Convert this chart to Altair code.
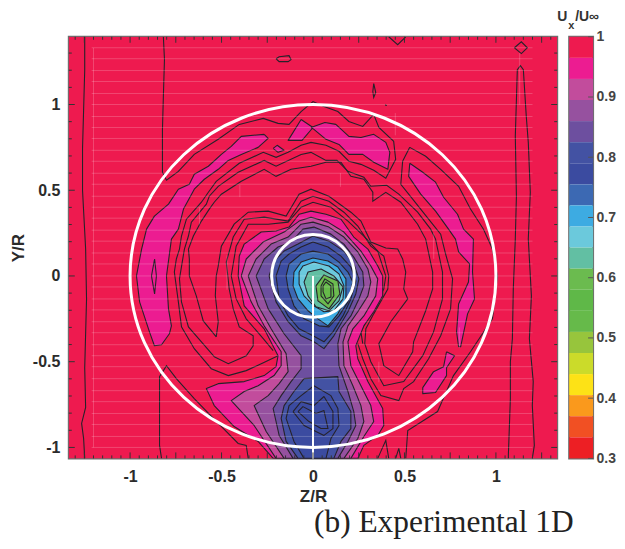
import altair as alt
import pandas as pd

Z_DOMAIN = [-1.335, 1.335]
Y_DOMAIN = [-1.064, 1.395]
BAND_EDGES = [1.0, .965, .93, .895, .86, .825, .79, .755, .72, .685, .65, .615, .58, .545, .51, .475, .44, .405, .37, .335, .30]
BAND_COLORS = ["#EE1A4F", "#EC1C91", "#C24C9C", "#96519F", "#6D4F9F", "#4352A3", "#3B4BA0", "#3C69B3", "#3DABE2", "#6BC9DC",
               "#62BFA3", "#6BBB4F", "#5FB848", "#66BA4A", "#97C53C", "#CBDB2A", "#FDE216", "#FA991C", "#F15023", "#ED1F24"]
COLORBAR_TICKS = [.3, .4, .5, .6, .7, .8, .9, 1]
AXIS_TICKS = [-1, -.5, 0, .5, 1]

BG = [(-1.335, 1.395), (1.335, 1.395), (1.335, -1.064), (-1.335, -1.064)]
PINK_LEFT = [(-.267,.826),(-.392,.814),(-.447,.756),(-.501,.709),(-.572,.640),(-.649,.593),(-.676,.535),(-.736,.506),(-.790,.419),(-.867,.349),(-.910,.273),(-.937,.157),(-.965,0),(-.948,-.151),(-.894,-.326),(-.867,-.407),(-.828,-.401),(-.785,-.337),(-.774,-.291),(-.790,-.192),(-.801,0),(-.774,.215),(-.736,.273),(-.708,.390),(-.649,.506),(-.594,.564),(-.518,.622),(-.463,.674),(-.392,.709),(-.300,.750),(-.245,.802)]
PINK_DIAMOND = [(-.065,.913),(0,.866),(-.060,.791),(-.136,.791)]
PINK_SMALL = [(-.218,.744),(-.196,.762),(-.158,.733),(-.191,.721)]
PINK_TOPRIGHT = [(-.011,.866),(.065,.895),(.125,.884),(.196,.814),(.262,.808),(.332,.826),(.398,.779),(.420,.721),(.409,.622),(.332,.663),(.272,.709),(.196,.709),(.142,.767),(.071,.797),(.005,.855)]
PINK_RIGHT = [(.529,.657),(.600,.605),(.670,.547),(.714,.459),(.790,.360),(.823,.273),(.877,.215),(.872,.023),(.883,-.134),(.845,-.221),(.807,-.413),(.796,-.413),(.785,-.326),(.796,-.163),(.850,-.035),(.856,.070),(.796,.140),(.779,.215),(.741,.273),(.670,.378),(.589,.477),(.523,.581)]
PINK_LOWRIGHT = [(.730,-.442),(.774,-.465),(.730,-.535),(.730,-.581),(.670,-.680),(.600,-.686),(.600,-.651),(.659,-.558),(.714,-.529)]
L2 = [(-.403,.116),(-.376,.186),(-.283,.256),(-.202,.262),(-.131,.285),(-.076,.360),(-.011,.378),(.071,.360),(.153,.331),(.223,.227),(.300,.157),(.354,.058),(.381,0),(.381,-.116),(.332,-.209),(.278,-.291),(.234,-.407),(.245,-.483),(.300,-.616),(.381,-.773),(.387,-.872),(.354,-.930),(.278,-.988),(.245,-1.064),(-.218,-1.064),(-.300,-.965),(-.431,-.878),(-.540,-.756),(-.583,-.657),(-.518,-.628),(-.376,-.616),(-.267,-.581),(-.202,-.529),(-.191,-.465),(-.267,-.308),(-.376,-.174),(-.409,0)]
L3 = [(-.392,0),(-.365,.099),(-.273,.198),(-.158,.256),(-.076,.320),(-.011,.343),(.082,.314),(.169,.256),(.262,.145),(.316,.058),(.354,-.017),(.343,-.116),(.278,-.233),(.218,-.308),(.191,-.384),(.207,-.523),(.262,-.640),(.316,-.756),(.332,-.849),(.278,-.936),(.207,-1.064),(-.202,-1.064),(-.322,-.872),(-.447,-.727),(-.376,-.674),(-.300,-.640),(-.213,-.581),(-.174,-.523),(-.174,-.442),(-.267,-.291),(-.338,-.151)]
L4 = [(-.354,0),(-.311,.099),(-.229,.186),(-.136,.227),(-.065,.302),(0,.314),(.087,.285),(.169,.227),(.245,.140),(.300,.041),(.316,-.035),(.300,-.116),(.245,-.209),(.191,-.291),(.164,-.384),(.169,-.523),(.218,-.640),(.262,-.756),(.278,-.849),(.245,-.948),(.169,-1.064),(-.158,-1.064),(-.256,-.907),(-.322,-.756),(-.245,-.698),(-.185,-.628),(-.136,-.558),(-.147,-.453),(-.229,-.308),(-.300,-.174)]
L5 = [(-.311,0),(-.267,.099),(-.191,.169),(-.120,.198),(-.055,.273),(.005,.285),(.098,.244),(.169,.186),(.223,.110),(.272,.023),(.278,-.058),(.251,-.134),(.207,-.233),(.153,-.308),(.136,-.395),(.142,-.523),(.191,-.674),(.223,-.791),(.234,-.872),(.191,-.965),(.136,-1.064),(-.109,-1.064),(-.185,-.930),(-.218,-.773),(-.174,-.698),(-.120,-.616),(-.065,-.541),(-.065,-.465),(-.158,-.337),(-.245,-.192)]
L6_UP = [(-.240,0),(-.213,.087),(-.158,.145),(-.082,.186),(0,.233),(.087,.203),(.169,.145),(.223,.070),(.251,-.017),(.234,-.105),(.191,-.209),(.114,-.349),(.060,-.424),(.005,-.384),(-.065,-.349),(-.136,-.267),(-.202,-.151)]
L6_LOW = [(-.049,-.599),(.136,-.587),(.142,-.674),(.207,-.791),(.207,-.890),(.153,-.965),(.114,-1.064),(-.082,-1.064),(-.147,-.965),(-.174,-.831),(-.158,-.756),(-.104,-.674)]
L7_LOW = [(.005,-.640),(.098,-.698),(.136,-.773),(.142,-.872),(.098,-.948),(.071,-1.064),(-.049,-1.064),(-.104,-.965),(-.147,-.831),(-.131,-.756),(-.065,-.698)]
L8_LOW = [(-.109,-.791),(-.065,-.733),(.005,-.756),(.060,-.703),(.109,-.791),(.109,-.890),(.060,-.930),(.016,-.907),(-.049,-.872)]
L9_LOW = [(-.082,-.791),(-.055,-.762),(.016,-.802),(.060,-.785),(.082,-.890),(.044,-.890),(-.022,-.849)]
L7_UP = [(-.202,0),(-.174,.087),(-.131,.128),(-.065,.169),(0,.198),(.082,.169),(.153,.116),(.207,.052),(.234,-.029),(.207,-.134),(.164,-.233),(.109,-.326),(.060,-.384),(0,-.349),(-.076,-.308),(-.136,-.233),(-.185,-.134)]
L8 = [(-.147,0),(-.131,.070),(-.065,.128),(0,.145),(.082,.128),(.142,.081),(.191,.023),(.218,-.035),(.191,-.151),(.142,-.233),(.087,-.297),(.033,-.291),(-.049,-.250),(-.104,-.174),(-.136,-.076)]
L9 = [(-.104,.023),(-.065,.081),(0,.105),(.082,.087),(.136,.052),(.180,-.017),(.180,-.134),(.136,-.221),(.082,-.291),(.027,-.250),(-.027,-.203),(-.082,-.134),(-.109,-.058)]
L10 = [(-.076,.023),(-.055,.058),(.005,.081),(.087,.058),(.142,.012),(.169,-.058),(.164,-.134),(.114,-.203),(.060,-.209),(.005,-.174),(-.049,-.116),(-.076,-.047)]
L11 = [(-.049,-.035),(-.027,.023),(.044,.041),(.114,0),(.164,-.064),(.142,-.145),(.087,-.203),(.016,-.180),(-.027,-.116)]
L12 = [(.016,-.058),(.060,.006),(.136,-.029),(.147,-.105),(.087,-.192),(.027,-.145)]
L13 = [(.044,-.058),(.065,-.017),(.109,-.047),(.114,-.116),(.082,-.163),(.044,-.116)]
L14 = [(.055,-.058),(.071,-.035),(.098,-.058),(.098,-.122),(.071,-.134),(.055,-.093)]

LOOP1 = [(-.529,-.355),(-.600,-.262),(-.638,-.116),(-.676,0),(-.676,.099),(-.681,.157),(-.654,.233),(-.610,.320),(-.567,.390),(-.540,.430),(-.501,.477),(-.392,.552),(-.267,.622),(-.202,.581),(-.120,.622),(-.011,.640),(.071,.663),(.153,.663),(.207,.581),(.278,.564),(.327,.488),(.327,.436),(.398,.488),(.480,.430),(.572,.302),(.616,.215),(.654,.023),(.654,-.076),(.616,-.203),(.550,-.384),(.545,-.442),(.469,-.581),(.387,-.523),(.360,-.395),(.425,-.267),(.518,-.134),(.496,-.076),(.507,.023),(.490,.099),(.463,.157),(.398,.163),(.316,.198),(.262,.320),(.207,.372),(.087,.465),(-.011,.506),(-.076,.477),(-.147,.349),(-.245,.378),(-.354,.372),(-.431,.302),(-.501,.174),(-.518,.058),(-.529,0),(-.534,-.116),(-.518,-.267),(-.529,-.355)]
LOOP2 = [(-.540,-.471),(-.610,-.384),(-.681,-.297),(-.719,-.151),(-.730,-.017),(-.703,.157),(-.681,.233),(-.665,.314),(-.583,.419),(-.567,.465),(-.518,.523),(-.409,.605),(-.267,.674),(-.202,.640),(-.065,.709),(-.011,.721),(.071,.674),(.131,.674),(.191,.610),(.278,.576),(.316,.523),(.403,.529),(.469,.477),(.572,.372),(.643,.273),(.670,.215),(.708,.023),(.708,-.134),(.659,-.326),(.600,-.465),(.496,-.616),(.387,-.640),(.316,-.500),(.283,-.395),(.289,-.308),(.332,-.221),(.409,-.076),(.414,0),(.387,.116),(.316,.174),(.245,.291),(.169,.372),(.087,.436),(0,.465),(-.065,.436),(-.136,.320),(-.267,.343),(-.376,.331),(-.436,.227),(-.474,.081),(-.458,-.076),(-.436,-.192),(-.403,-.297),(-.327,-.349),(-.327,-.407),(-.365,-.465),(-.463,-.512),(-.540,-.471)]
LINE_A = [(-.818,1.395),(-.812,1.262),(-.818,1.047),(-.823,.855),(-.823,.605),(-.801,.558),(-.736,.610),(-.649,.709),(-.518,.797),(-.403,.884),(-.272,.919),(-.191,.890),(-.131,.884),(-.065,.959),(0,1.017),(.060,.988),(.136,.959),(.196,.901),(.272,.872),(.332,.942),(.360,.866),(.441,.785),(.452,.680),(.398,.570),(.332,.616),(.262,.651),(.196,.669),(.142,.727),(.071,.762),(-.011,.779),(-.065,.762),(-.136,.721),(-.202,.692),(-.272,.721),(-.403,.657),(-.529,.552),(-.572,.488),(-.610,.430),(-.692,.331),(-.719,.233),(-.730,.157),(-.747,.099),(-.758,.023),(-.736,-.151),(-.719,-.297),(-.649,-.424),(-.556,-.541),(-.463,-.581),(-.365,-.552),(-.283,-.512),(-.191,-.465)]
LINE_D = [(-.218,-.436),(-.272,-.366),(-.365,-.250),(-.420,-.134),(-.447,0),(-.420,.174),(-.354,.302),(-.245,.302),(-.136,.314),(-.065,.401),(0,.430),(.098,.401),(.191,.320),(.278,.233),(.354,.145),(.398,0),(.387,-.076),(.316,-.209),(.262,-.326),(.272,-.395)]
LINE_R3 = [(.529,.750),(.490,.669),(.480,.535),(.545,.448),(.632,.331),(.698,.244),(.725,.128),(.763,-.017),(.752,-.192),(.698,-.349),(.632,-.483),(.550,-.616),(.496,-.657),(.469,-.727),(.371,-.698),(.316,-.599),(.272,-.483),(.245,-.395)]
LINE_RO = [(.529,.750),(.616,.698),(.698,.622),(.796,.523),(.861,.390),(.932,.273),(.981,.157),(1.008,0),(.981,-.250),(.861,-.442),(.768,-.581),(.681,-.791),(.518,-.901),(.507,-1.064)]
LINE_C = [(-.828,-1.064),(-.839,-.988),(-.839,-.587),(-.801,-.523),(-.747,-.599),(-.649,-.715),(-.518,-.860),(-.409,-.977),(-.365,-.988),(-.354,-1.064)]
LINE_FARLEFT = [(-1.248,1.395),(-1.248,1.20),(-1.254,.97),(-1.26,.74),(-1.26,.50),(-1.243,.157),(-1.238,-.134),(-1.248,-.535),(-1.243,-.767),(-1.265,-.860),(-1.254,-.948),(-1.248,-1.064)]
LINE_FARRIGHT = [(1.068,-1.064),(1.068,-1.046),(1.079,-.715),(1.079,-.500),(1.090,-.366),(1.095,-.076),(1.106,.215),(1.112,.465),(1.106,.814),(1.117,1.203),(1.134,1.227),(1.150,1.203),(1.166,.930),(1.177,.779),(1.188,.488),(1.177,.215),(1.194,-.116),(1.183,-.366),(1.204,-.616),(1.199,-.756),(1.210,-.988),(1.199,-1.064)]
SMALL_LINES = [
    [(1.101,1.331),(1.139,1.366),(1.172,1.331),(1.139,1.297),(1.101,1.331)],
    [(.414,1.395),(.463,1.349),(.507,1.395)],
    [(-.202,1.267),(-.185,1.279),(-.131,1.285),(-.120,1.262),(-.136,1.250),(-.185,1.250),(-.202,1.267)],
    [(.332,1.122),(.343,1.070),(.332,1.041),(.327,1.076),(.332,1.122)],
    [(.396,.994),(.398,.998),(.400,.994),(.396,.994)],
    [(.354,-1.064),(.398,-.959),(.414,-1.064)],
    [(.452,-1.064),(.469,-1.006),(.480,-1.064)],
]
ELLIPSE_LEFT = [(-.866,.099),(-.883,0),(-.866,-.105),(-.856,0),(-.866,.099)]
FAINT_Y = [1.331,1.267,1.198,1.134,1.064,1.0,.930,.866,.802,.733,.669,.599,.535,.465,.401,.337,.267,.203,.134,.070,0,-.064,-.134,-.198,-.267,-.331,-.401,-.465,-.529,-.599,-.669,-.733,-.802,-.866,-.936,-1.0]
FAINT_V = [(-1.2,1.33,-1.0),(-.40,.53,.46),(-.47,.12,-.08),(-.62,.40,.30),(.15,.60,.52),(.45,.95,.82),(.66,.25,.10),(.36,-.50,-.62),(.80,-.30,-.42),(1.13,1.30,1.0)]
X_TICKS = [round(-1.30 + .05 * i, 2) for i in range(53)]
Y_TICKS = [round(-1.0 + .1 * i, 1) for i in range(24)]

W, H = 490, 423
FONT = "Liberation Sans"
xs = alt.Scale(domain=Z_DOMAIN, nice=False, zero=False)
ys = alt.Scale(domain=Y_DOMAIN, nice=False, zero=False)
AXC = dict(values=AXIS_TICKS, labelExpr="'' + datum.value", tickSize=0, domain=False, grid=False,
           labelFont=FONT, labelFontWeight="bold", labelFontSize=16, labelColor="#2b2b2b",
           titleFont=FONT, titleFontWeight="bold", titleFontSize=17, titleColor="#2b2b2b")
X_AXIS = alt.Axis(labelPadding=10, titlePadding=4, **AXC)
Y_AXIS = alt.Axis(labelPadding=9, titlePadding=5, **AXC)
XE = alt.X("z:Q", scale=xs, axis=X_AXIS, title="Z/R")
YE = alt.Y("y:Q", scale=ys, axis=Y_AXIS, title="Y/R")


def frame(points):
    return pd.DataFrame({"z": [p[0] for p in points], "y": [p[1] for p in points], "i": range(len(points))})


def filled(points, color):
    return alt.Chart(frame(points + points[:1])).mark_line(
        fill=color, filled=True, stroke="#26222a", strokeWidth=1.1, clip=True, strokeJoin="round"
    ).encode(x=XE, y=YE, order="i:O")


def stroke(points):
    return alt.Chart(frame(points)).mark_line(
        stroke="#26222a", strokeWidth=1.1, clip=True
    ).encode(x=XE, y=YE, order="i:O")


base = alt.Chart(frame(BG)).mark_rect(fill=BAND_COLORS[0], clip=True).encode(
    x=alt.X("min(z):Q", scale=xs, axis=X_AXIS, title="Z/R"), x2="max(z):Q",
    y=alt.Y("min(y):Q", scale=ys, axis=Y_AXIS, title="Y/R"), y2="max(y):Q",
)

layers = [base]
for line in [LINE_FARLEFT, LINE_FARRIGHT, LINE_A, LINE_C, LINE_RO, LINE_R3, LOOP1, LOOP2, LINE_D] + SMALL_LINES:
    layers.append(stroke(line))
for poly in [PINK_LEFT, PINK_DIAMOND, PINK_SMALL, PINK_TOPRIGHT, PINK_RIGHT, PINK_LOWRIGHT, L2]:
    layers.append(filled(poly, BAND_COLORS[1]))
layers.append(stroke(ELLIPSE_LEFT))
for poly, band in [(L3, 2), (L4, 3), (L5, 4), (L6_UP, 5), (L6_LOW, 5), (L7_LOW, 6), (L8_LOW, 6), (L9_LOW, 6),
                   (L7_UP, 6), (L8, 7), (L9, 8), (L10, 9), (L11, 10), (L12, 11), (L13, 12), (L14, 13)]:
    layers.append(filled(poly, BAND_COLORS[band]))

faint = alt.Chart(pd.DataFrame({"y": FAINT_Y, "a": -1.21, "b": 1.20})).mark_rule(
    stroke="white", strokeWidth=1, opacity=.2
).encode(x=alt.X("a:Q", scale=xs, axis=X_AXIS, title="Z/R"), x2="b:Q", y=YE)
faint_v = alt.Chart(pd.DataFrame(FAINT_V, columns=["z", "y", "y2"])).mark_rule(
    stroke="white", strokeWidth=1, opacity=.2
).encode(x=XE, y=YE, y2="y2:Q")
layers += [faint, faint_v]

ring_df = pd.DataFrame({"z": [0], "y": [0]})
outer = alt.Chart(ring_df).mark_point(
    shape="M-1.067,0A1.067,1,0,1,0,1.067,0A1.067,1,0,1,0,-1.067,0Z", size=118336, filled=False,
    stroke="white", strokeWidth=3, opacity=1
).encode(x=XE, y=YE)
inner = alt.Chart(ring_df).mark_point(
    shape="circle", size=6889, filled=False, stroke="white", strokeWidth=3, opacity=1
).encode(x=XE, y=YE)
stem = alt.Chart(pd.DataFrame({"z": [0], "y": [0], "y2": [-1.064]})).mark_rule(
    stroke="white", strokeWidth=2
).encode(x=XE, y=YE, y2="y2:Q")
layers += [outer, inner, stem]

TICK = "#333333"
for near in [True, False]:
    df = pd.DataFrame({"z": X_TICKS})
    df["long"] = [round(v / .25, 6) == round(v / .25) for v in X_TICKS]
    for is_long, ln in [(False, 3), (True, 6)]:
        y0, y1 = (H, H - ln) if near else (0, ln)
        layers.append(alt.Chart(df[df["long"] == is_long]).mark_rule(stroke=TICK, strokeWidth=1).encode(
            x=XE, y=alt.value(y0), y2=alt.value(y1)))
for near in [True, False]:
    df = pd.DataFrame({"y": Y_TICKS})
    df["long"] = [round(v / .5, 6) == round(v / .5) for v in Y_TICKS]
    for is_long, ln in [(False, 3), (True, 6)]:
        x0, x1 = (0, ln) if near else (W, W - ln)
        layers.append(alt.Chart(df[df["long"] == is_long]).mark_rule(stroke=TICK, strokeWidth=1).encode(
            y=YE, x=alt.value(x0), x2=alt.value(x1)))

caption = alt.Chart(ring_df).mark_text(
    text="(b) Experimental 1D", font="Liberation Serif", fontSize=31.5, align="left", baseline="alphabetic", color="#222222"
).encode(x=alt.value(246), y=alt.value(497))
layers.append(caption)

main = alt.layer(*layers).properties(width=W, height=H)

# colour bar
bar_df = pd.DataFrame({"lo": BAND_EDGES[1:], "hi": BAND_EDGES[:-1], "c": BAND_COLORS})
cs = alt.Scale(domain=[.3, 1], nice=False, zero=False)
BAR_AXIS = alt.Axis(orient="right", values=COLORBAR_TICKS, format="~g", tickSize=0, domain=False, grid=False,
                    labelPadding=3, labelFont=FONT, labelFontWeight="bold", labelFontSize=14, labelColor="#444444")
bar = alt.Chart(bar_df).mark_rect().encode(
    x=alt.value(0), x2=alt.value(24),
    y=alt.Y("lo:Q", scale=cs, title=None, axis=BAR_AXIS),
    y2="hi:Q",
    fill=alt.Fill("c:N", scale=None),
)
bar_ticks = alt.Chart(pd.DataFrame({"v": COLORBAR_TICKS})).mark_rule(stroke="#555555", strokeWidth=1).encode(
    y=alt.Y("v:Q", scale=cs, title=None, axis=BAR_AXIS), x=alt.value(19), x2=alt.value(24))
t = [
    ("U", -12, -16, 14),
    ("x", -1, -8, 11),
    ("/U∞", 6, -16, 14),
]
title_layers = [
    alt.Chart(pd.DataFrame({"s": [s]})).mark_text(
        font=FONT, fontWeight="bold", fontSize=fs, align="left", baseline="alphabetic", color="#333333"
    ).encode(text="s:N", x=alt.value(px), y=alt.value(py))
    for s, px, py, fs in t
]
colorbar = alt.layer(bar, bar_ticks, *title_layers).properties(width=24, height=H)

chart = alt.hconcat(main, colorbar, spacing=12, bounds="flush").configure_view(
    stroke="#6e6e6e", strokeWidth=2
).properties(padding={"left": 0, "top": 0, "right": 0, "bottom": 0})

chart.save("out.html", embed_options={"renderer": "svg", "actions": False})
